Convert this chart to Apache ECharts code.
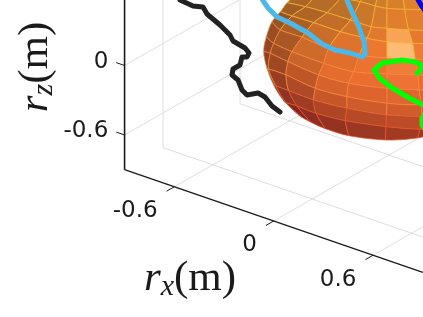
<!DOCTYPE html>
<html><head><meta charset="utf-8">
<style>html,body{margin:0;padding:0;background:#fff}#c{width:423px;height:317px}</style>
<script src="https://cdn.jsdelivr.net/npm/echarts@6/dist/echarts.min.js"></script>
</head><body><div id="c"></div>
<script>
// axis values (metres)
const boxLimit = 0.9;
const xTicks = [-0.6, 0, 0.6];
const yTicks = [-0.6, 0, 0.6];
const zTicks = [-0.6, 0];
const xTickLabels = ['-0.6', '0', '0.6'];
const zTickLabels = ['-0.6', '0'];

// curves as read in the view plane
const blackCurve = [[180,0],[193,6],[203,7],[207,14],[220,25],[230,35],[233,41],[245,48],[249,53],[247,57],[242,57],[240,65],[233,69],[232,75],[238,80],[242,90],[247,95],[258,93],[265,97],[272,106],[280,112]];
const cyanCurve = [[262,-1],[268,8],[277,17],[290,23],[308,33],[322,44],[335,50],[350,53],[362,57],[365,54],[364,42],[358,25],[351,10],[346,-2]];
const greenCurve = [[425,106],[409,98],[392,88],[379,78],[374,70],[382,63],[402,60],[415,62],[425,67]];
const greenHook = [[417,73],[419,72],[425,65]];
const greenBlob = [[425,113],[422,118],[422,125],[425,129]];
const blueCurve = [[417,-2],[421,5],[426,12]];

// surface nodes (rows of latitude, columns of longitude)
const meshRows = [
 [[270,-40],[340,-45],[410,-45],[470,-45],[505,-45],[527,-45],[570,-45],[700,-45]],
 [[250,-15],[310,-12],[385,-5],[445,5],[490,18],[525,25],[578,28],[700,30]],
 [[225,8],[280,20],[345,38],[415,60],[478,80],[525,85],[590,90],[700,92]],
 [[205,35],[240,48],[305,68],[385,95],[465,115],[525,125],[602,130],[700,132]],
 [[180,65],[205,90],[270,112],[350,145],[442,165],[525,175],[610,178],[700,180]],
 [[163,110],[185,130],[240,155],[335,190],[425,215],[525,222],[618,225],[700,227]],
 [[155,155],[175,160],[228,185],[320,225],[410,250],[525,265],[622,270],[700,272]],
 [[165,205],[170,207],[222,225],[310,265],[405,290],[525,310],[628,315],[700,317]],
 [[185,255],[192,258],[230,272],[305,300],[405,325],[523,345],[630,350],[700,352]],
 [[215,302],[222,308],[255,318],[312,340],[400,362],[522,380],[625,388],[700,385]],
 [[262,347],[270,352],[295,366],[340,386],[410,407],[520,420],[615,414],[700,395]]
];
const meshShade = [
 [.35,.38,.40,.45,.50,.55,.60],
 [.33,.38,.42,.48,.55,.62,.62],
 [.30,.36,.45,.52,.62,.86,.65],
 [.25,.35,.48,.60,.70,.95,.72],
 [.25,.33,.50,.62,.70,.74,.70],
 [.22,.30,.48,.65,.70,.72,.68],
 [.20,.28,.42,.56,.60,.62,.58],
 [.17,.24,.35,.46,.50,.52,.48],
 [.13,.19,.28,.35,.39,.41,.37],
 [.08,.11,.18,.23,.27,.29,.27]
];

// oblique projection of the axes box onto the view plane
function project(rx, ry, rz) {
  return [273.7 + rx*165.7 + (ry+boxLimit)*128.3,
          221 + rx*57 + (ry+boxLimit)*-73.3 + (rz+boxLimit)*-115.8];
}
const crop = p => [212 + p[0]/3, p[1]/3];
const L = boxLimit;

function seg(points, color, width, z, cap) {
  return {type:'line', data:points, symbol:'none', silent:true, clip:false, z:z, animation:false,
    lineStyle:{color:color, width:width, cap:cap||'round', join:'round'}};
}
const series = [];
const GRID = '#dedede';
xTicks.forEach(x => series.push(seg([project(x,-L,-L),project(x,L,-L)],GRID,1,1,'butt')));
yTicks.forEach(y => {
  series.push(seg([project(-L,y,-L),project(L,y,-L)],GRID,1,1,'butt'));
  series.push(seg([project(-L,y,-L),project(-L,y,L*3)],GRID,1,1,'butt'));
});
zTicks.forEach(z => series.push(seg([project(-L,-L,z),project(-L,L,z)],GRID,1,1,'butt')));

// axis box edges and ticks
series.push(seg([project(-L,-L,-L),project(L,-L,-L)],'#1a1a1a',1.3,2,'butt'));
series.push(seg([project(-L,-L,-L),project(-L,-L,L*2)],'#1a1a1a',1.6,2,'butt'));
xTicks.forEach(x => series.push(seg([project(x,-L,-L),project(x,-L-0.06,-L)],'#1a1a1a',1,2,'butt')));
zTicks.forEach(z => series.push(seg([project(-L,-L,z),project(-L-0.05,-L,z)],'#1a1a1a',1,2,'butt')));

// surface
const ramp = [[0,[120,50,34]],[.25,[152,78,34]],[.5,[206,106,42]],[.7,[236,114,48]],[.85,[248,150,82]],[1,[255,200,136]]];
function shadeColor(v,row){
  let col=[255,200,136];
  for(let i=1;i<ramp.length;i++){ if(v<=ramp[i][0]){
    const t=(v-ramp[i-1][0])/(ramp[i][0]-ramp[i-1][0]);
    const a=ramp[i-1][1],b=ramp[i][1];
    col=a.map((c,k)=>c+(b[k]-c)*t); break;
  }}
  col[1]+= (4-row)*5;
  return 'rgb('+col.map(c=>Math.round(Math.max(0,Math.min(255,c)))).join(',')+')';
}
// Catmull-Rom through the read nodes so that cell edges follow the surface's curvature
function spline(p0,p1,p2,p3,steps){
  const out=[];
  for(let i=0;i<=steps;i++){
    const t=i/steps,t2=t*t,t3=t2*t;
    out.push([0,1].map(k=>0.5*(2*p1[k]+(p2[k]-p0[k])*t+(2*p0[k]-5*p1[k]+4*p2[k]-p3[k])*t2+(3*p1[k]-p0[k]-3*p2[k]+p3[k])*t3)));
  }
  return out;
}
function rowEdge(r,c){
  const R=meshRows[r],n=R.length-1;
  return spline(R[Math.max(c-1,0)],R[c],R[c+1],R[Math.min(c+2,n)],5);
}
function colEdge(r,c){
  const n=meshRows.length-1,N=i=>meshRows[i][c];
  return spline(N(Math.max(r-1,0)),N(r),N(r+1),N(Math.min(r+2,n)),5);
}
const cells=[];
meshShade.forEach((row,r)=>row.forEach((s,c)=>cells.push([r,c,s])));
series.push({type:'custom', coordinateSystem:'cartesian2d', silent:true, clip:false, z:3, animation:false,
  data:cells,
  encode:{x:0,y:1},
  renderItem:(params,api)=>{
    const r=api.value(0),c=api.value(1),s=api.value(2);
    const outline=[].concat(rowEdge(r,c),colEdge(r,c+1),rowEdge(r+1,c).reverse(),colEdge(r,c).reverse());
    const stroke = r<4?'rgba(246,176,48,.75)':(r<8?'rgba(246,134,56,.7)':'rgba(232,84,42,.7)');
    return {type:'polygon',shape:{points:outline.map(p=>api.coord(crop(p)))},style:{fill:shadeColor(s,r),stroke:stroke,lineWidth:1}};
  }});

// curves
series.push(seg(cyanCurve,'#4db8e8',5,6));
series.push(seg(blueCurve,'#0000ff',5,6));
series.push(seg(greenCurve,'#00ff00',5,6));
series.push(seg(greenHook,'#00ff00',5,6));
series.push(seg(greenBlob,'#00ff00',5,6));
series.push(seg(blackCurve,'#222222',5,6));

// tick labels
const tickFont = {fontFamily:'DejaVu Sans',fontSize:23,color:'#1a1a1a',opacity:1,textBorderWidth:0};
function labels(pts,texts,offset,align){
  return {type:'scatter',symbolSize:0,silent:true,clip:false,z:8,animation:false,
    itemStyle:{opacity:1},
    data:pts.map((p,i)=>({value:p,label:{formatter:texts[i]}})),
    label:Object.assign({show:true,position:'inside',offset:offset,align:align,verticalAlign:'middle'},tickFont)};
}
series.push(labels(xTicks.map(x=>project(x,-L-0.06,-L)),xTickLabels,[-9,20],'right'));
series.push(labels(zTicks.map(z=>project(-L-0.05,-L,z)),zTickLabels,[-8,-1],'right'));

// axis titles
const INK='#1a1a1a';
const rich={
  r:{fontFamily:'Liberation Serif',fontStyle:'italic',fontSize:43,color:INK},
  s:{fontFamily:'Liberation Serif',fontStyle:'italic',fontSize:30,color:INK,padding:[17,0,0,0]},
  m:{fontFamily:'Liberation Serif',fontSize:43,color:INK}
};
function title(pos,text,rotate){
  return {type:'scatter',symbolSize:0,silent:true,clip:false,z:8,animation:false,data:[pos],itemStyle:{opacity:1},
    label:{show:true,position:'inside',rotate:rotate,align:'center',verticalAlign:'middle',formatter:text,rich:rich}};
}
series.push(title([190,279],'{r|r}{s|x}{m|(m)}',0));
series.push(title([36,67],'{r|r}{s|z}{m|(m)}',90));

const chart=echarts.init(document.getElementById('c'),null,{renderer:'canvas'});
chart.setOption({
  animation:false,
  backgroundColor:'#fff',
  grid:{left:0,right:0,top:0,bottom:0},
  xAxis:{type:'value',min:0,max:423,show:false},
  yAxis:{type:'value',min:0,max:317,inverse:true,show:false},
  series:series
});
</script></body></html>
